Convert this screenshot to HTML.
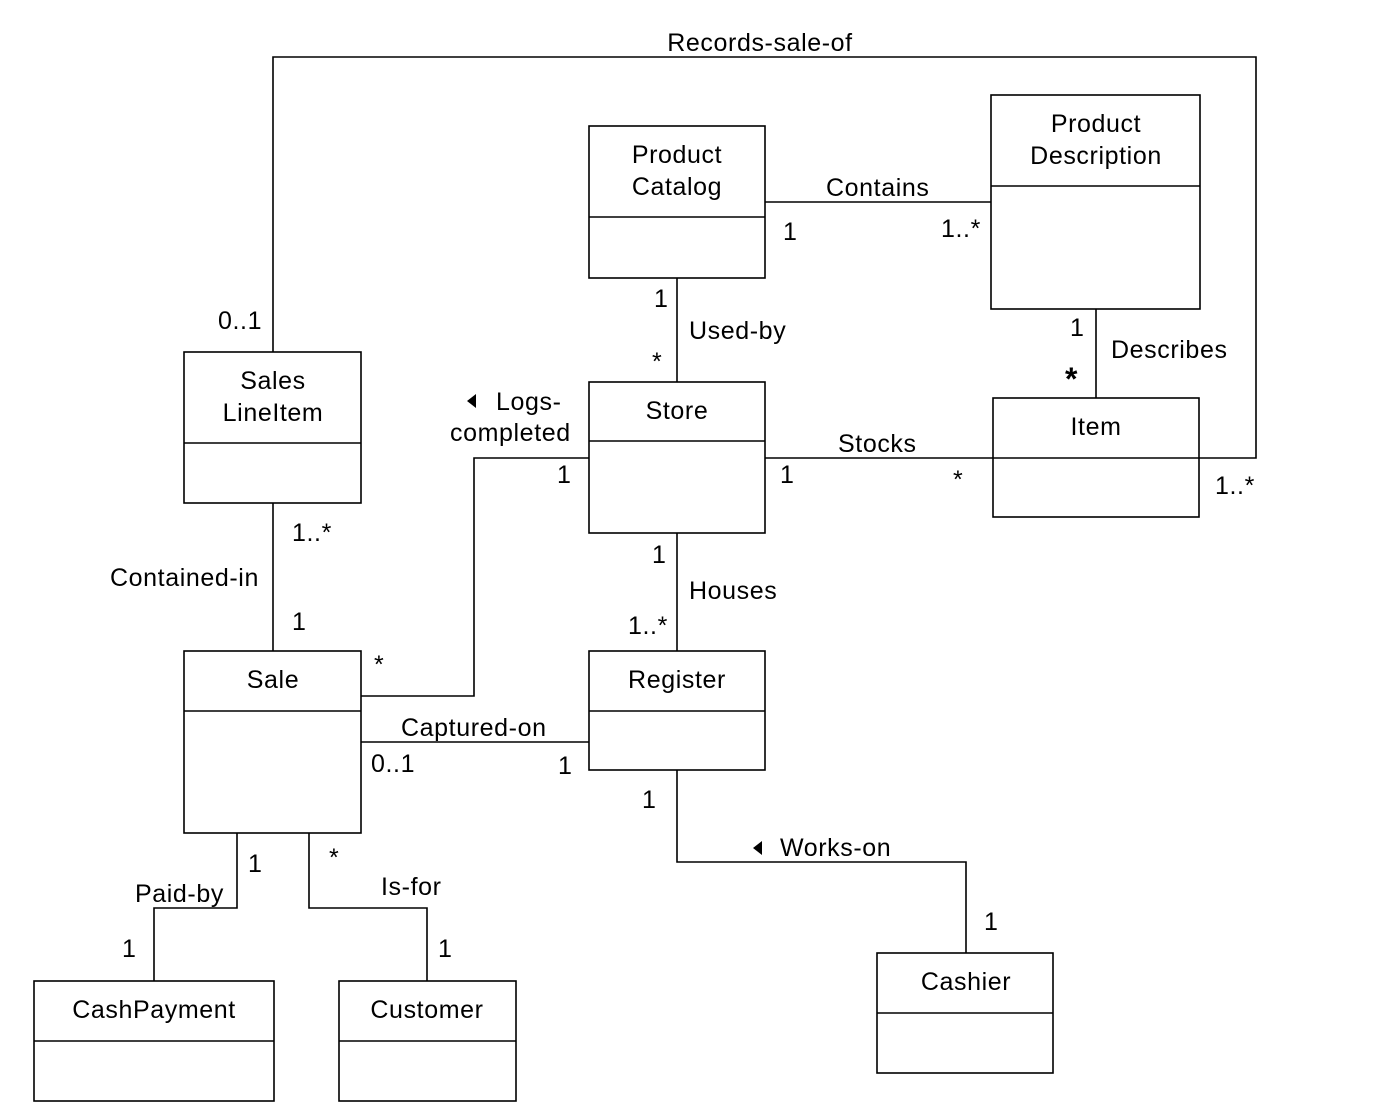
<!DOCTYPE html>
<html><head><meta charset="utf-8"><style>
html,body{margin:0;padding:0;background:#fff}
svg{display:block}
text{font-family:"Liberation Sans",Arial,sans-serif;font-size:25px;letter-spacing:0.6px;fill:#000}
.c{text-anchor:middle}
</style></head><body>
<svg width="1378" height="1116" viewBox="0 0 1378 1116" xmlns="http://www.w3.org/2000/svg">
<g fill="none" stroke="#000" stroke-width="1.6">
<rect x="589" y="126" width="176" height="152"/><line x1="589" y1="217" x2="765" y2="217"/>
<rect x="991" y="95" width="209" height="214"/><line x1="991" y1="186" x2="1200" y2="186"/>
<rect x="184" y="352" width="177" height="151"/><line x1="184" y1="443" x2="361" y2="443"/>
<rect x="589" y="382" width="176" height="151"/><line x1="589" y1="441" x2="765" y2="441"/>
<rect x="993" y="398" width="206" height="119"/><line x1="993" y1="458" x2="1199" y2="458"/>
<rect x="184" y="651" width="177" height="182"/><line x1="184" y1="711" x2="361" y2="711"/>
<rect x="589" y="651" width="176" height="119"/><line x1="589" y1="711" x2="765" y2="711"/>
<rect x="34" y="981" width="240" height="120"/><line x1="34" y1="1041" x2="274" y2="1041"/>
<rect x="339" y="981" width="177" height="120"/><line x1="339" y1="1041" x2="516" y2="1041"/>
<rect x="877" y="953" width="176" height="120"/><line x1="877" y1="1013" x2="1053" y2="1013"/>
<polyline points="273,352 273,57 1256,57 1256,458 1199,458"/>
<line x1="765" y1="202" x2="991" y2="202"/>
<line x1="677" y1="278" x2="677" y2="382"/>
<line x1="1096" y1="309" x2="1096" y2="398"/>
<line x1="765" y1="458" x2="993" y2="458"/>
<polyline points="589,458 474,458 474,696 361,696"/>
<line x1="677" y1="533" x2="677" y2="651"/>
<line x1="273" y1="503" x2="273" y2="651"/>
<line x1="361" y1="742" x2="589" y2="742"/>
<polyline points="677,770 677,862 966,862 966,953"/>
<polyline points="237,833 237,908 154,908 154,981"/>
<polyline points="309,833 309,908 427,908 427,981"/>
</g>
<polygon points="467,401 476,394 476,408" fill="#000"/>
<polygon points="753,848 762,841 762,855" fill="#000"/>
<text class="c" x="677" y="163">Product</text><text class="c" x="677" y="195">Catalog</text>
<text class="c" x="1096" y="132">Product</text><text class="c" x="1096" y="164">Description</text>
<text class="c" x="273" y="389">Sales</text><text class="c" x="273" y="421">LineItem</text>
<text class="c" x="677" y="419">Store</text>
<text class="c" x="1096" y="435">Item</text>
<text class="c" x="273" y="688">Sale</text>
<text class="c" x="677" y="688">Register</text>
<text class="c" x="154" y="1018">CashPayment</text>
<text class="c" x="427" y="1018">Customer</text>
<text class="c" x="966" y="990">Cashier</text>
<text class="c" x="760" y="51">Records-sale-of</text>
<text x="826" y="196">Contains</text>
<text x="783" y="240">1</text><text x="941" y="237">1..*</text>
<text x="654" y="307">1</text><text x="689" y="339">Used-by</text><text x="652" y="370">*</text>
<text x="1070" y="336">1</text><text x="1111" y="358">Describes</text><text x="1065" y="390" style="font-size:32px;font-weight:bold">*</text>
<text x="838" y="452">Stocks</text>
<text x="780" y="483">1</text><text x="953" y="488">*</text><text x="1215" y="494">1..*</text>
<text x="218" y="329">0..1</text>
<text x="496" y="410">Logs-</text><text x="450" y="441">completed</text>
<text x="557" y="483">1</text>
<text x="652" y="563">1</text><text x="689" y="599">Houses</text><text x="628" y="634">1..*</text>
<text x="292" y="541">1..*</text><text x="110" y="586">Contained-in</text><text x="292" y="630">1</text>
<text x="374" y="673">*</text>
<text x="401" y="736">Captured-on</text>
<text x="371" y="772">0..1</text><text x="558" y="774">1</text>
<text x="642" y="808">1</text>
<text x="780" y="856">Works-on</text>
<text x="984" y="930">1</text>
<text x="248" y="872">1</text><text x="135" y="902">Paid-by</text><text x="122" y="957">1</text>
<text x="329" y="866">*</text><text x="381" y="895">Is-for</text><text x="438" y="957">1</text>
</svg>
</body></html>
